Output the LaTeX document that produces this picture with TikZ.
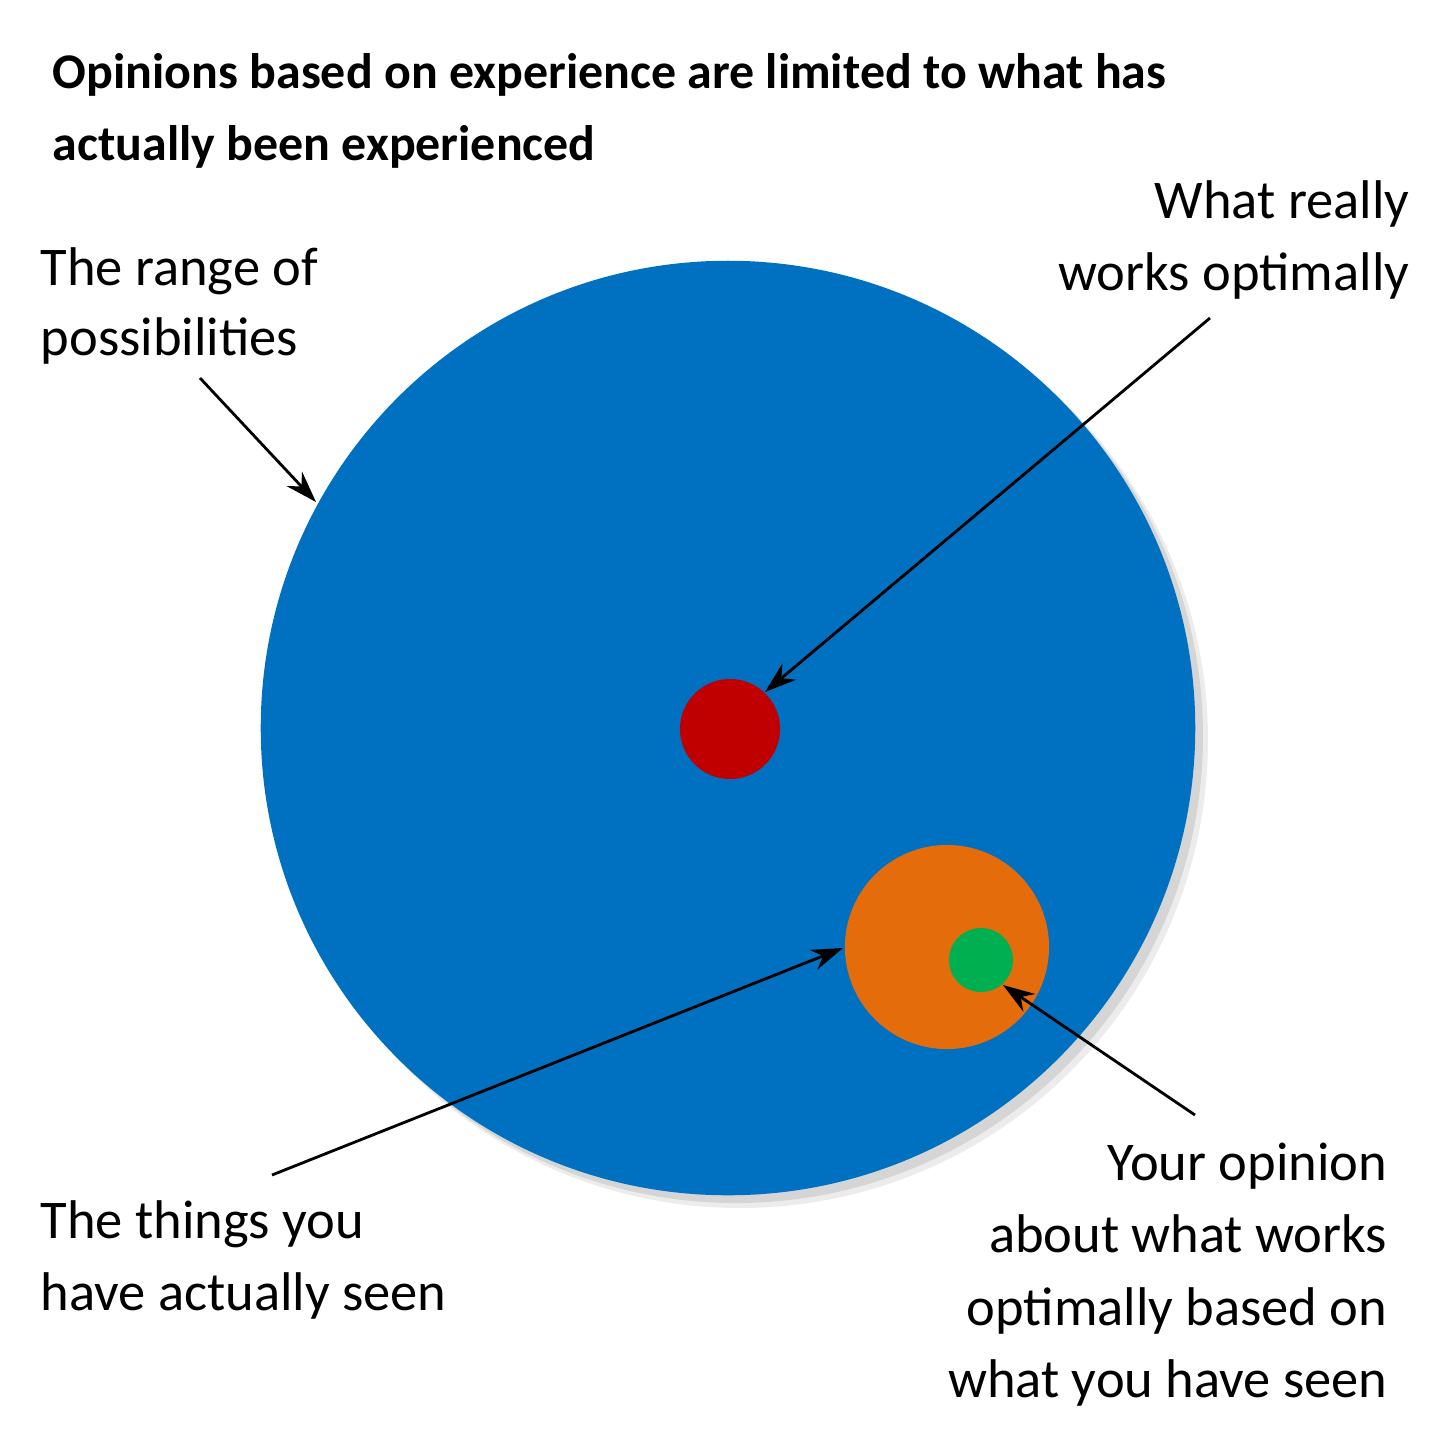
\documentclass[tikz,border=0pt]{standalone}
\usepackage{fontspec}
\setmainfont{Carlito}
\usetikzlibrary{arrows.meta}
\begin{document}
\begin{tikzpicture}[x=0.01cm,y=-0.01cm,
  lbl/.style={inner sep=0pt,font=\fontsize{15.5pt}{20pt}\selectfont},
  ttl/.style={inner sep=0pt,font=\fontsize{14.2pt}{20pt}\selectfont\bfseries},
  arr/.style={-{Stealth[length=9pt,width=6pt]},line width=0.8pt}]
\useasboundingbox (0,0) rectangle (1456,1456);
\fill[black!30,opacity=0.6] (736,736) circle (467);
\fill[black!15,opacity=0.5] (740,740) circle (468);
\node[circle,fill={rgb,255:red,0;green,112;blue,192},minimum size=9.34cm,inner sep=0pt] (big) at (728,728) {};
\node[circle,fill={rgb,255:red,192;green,0;blue,0},minimum size=1cm,inner sep=0pt] (red) at (730,729) {};
\node[circle,fill={rgb,255:red,228;green,108;blue,10},minimum size=2.04cm,inner sep=0pt] (orange) at (947,947) {};
\node[circle,fill={rgb,255:red,0;green,176;blue,80},minimum size=0.64cm,inner sep=0pt] (green) at (981,960) {};
\node[ttl,anchor=base west] (t1) at (52,88) {Opinions based on experience are limited to what has};
\node[ttl,anchor=base west] (t2) at (52,160) {actually been experienced};
\node[lbl,anchor=base west] (r1) at (40,285) {The range of};
\node[lbl,anchor=base west] (r2) at (40,355) {possibilities};
\node[lbl,anchor=base east] (w1) at (1410,218) {What really};
\node[lbl,anchor=base east] (w2) at (1410,290) {works optimally};
\node[lbl,anchor=base west] (s1) at (40,1238) {The things you};
\node[lbl,anchor=base west] (s2) at (40,1310) {have actually seen};
\node[lbl,anchor=base east] (y1) at (1388,1180) {Your opinion};
\node[lbl,anchor=base east] (y2) at (1388,1252) {about what works};
\node[lbl,anchor=base east] (y3) at (1388,1325) {optimally based on};
\node[lbl,anchor=base east] (y4) at (1388,1397) {what you have seen};
\coordinate (a1) at (200,378); \coordinate (a1e) at (316,502);
\coordinate (a2) at (1210,318); \coordinate (a2e) at (765,692);
\coordinate (a3) at (272,1175); \coordinate (a3e) at (843,948);
\coordinate (a4) at (1195,1115); \coordinate (a4e) at (1003,985);
\draw[arr] (a1) -- (a1e);
\draw[arr] (a2) -- (a2e);
\draw[arr] (a3) -- (a3e);
\draw[arr] (a4) -- (a4e);
\end{tikzpicture}
\end{document}
